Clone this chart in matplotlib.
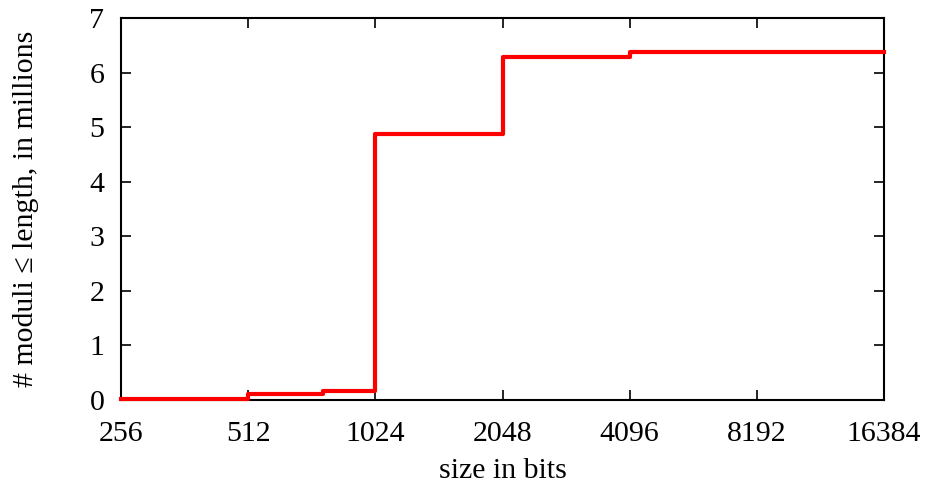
import matplotlib
matplotlib.use("Agg")
import matplotlib.pyplot as plt
from matplotlib.ticker import FixedLocator, FixedFormatter

# cumulative count of moduli up to a given bit length (millions)
sizes = [256, 512, 768, 1024, 2048, 4096, 16384]
counts = [0.01, 0.11, 0.16, 4.88, 6.28, 6.38, 6.38]

xticks = [256, 512, 1024, 2048, 4096, 8192, 16384]
yticks = [0, 1, 2, 3, 4, 5, 6, 7]

plt.rcParams["font.family"] = ["Liberation Serif", "DejaVu Serif"]
plt.rcParams["font.size"] = 21.5

fig = plt.figure(figsize=(9.25, 4.91), dpi=100)
ax = fig.add_axes([0.1308, 0.1853, 0.8249, 0.778])

ax.step(sizes, counts, where="post", color="#ff0000", lw=3, zorder=5, clip_on=False)

ax.set_xscale("log", base=2)
ax.set_xlim(256, 16384)
ax.set_ylim(0, 7)
ax.xaxis.set_major_locator(FixedLocator(xticks))
ax.xaxis.set_major_formatter(FixedFormatter([str(t) for t in xticks]))
ax.xaxis.set_minor_locator(FixedLocator([]))
ax.set_yticks(yticks)

ax.tick_params(direction="in", length=7, width=1.2, top=True, right=True)
ax.tick_params(axis="x", pad=15)
ax.tick_params(axis="y", pad=12)
for s in ax.spines.values():
    s.set_linewidth(1.5)

ax.set_xlabel("size in bits", labelpad=8)
ax.set_ylabel("# moduli ≤ length, in millions", labelpad=36)

fig.savefig("out.png", dpi=100)
